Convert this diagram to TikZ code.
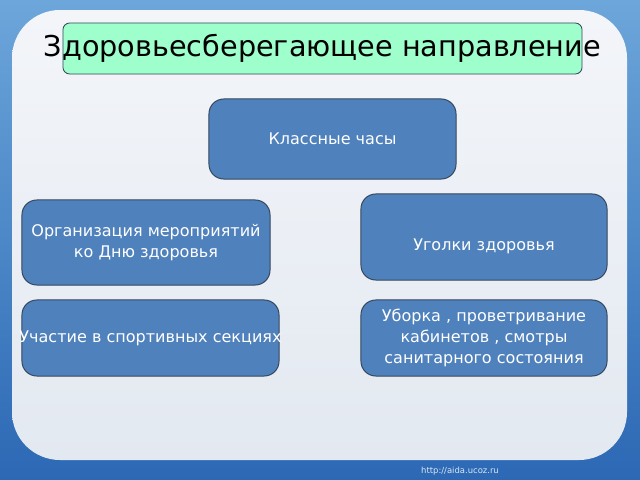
\documentclass[tikz,border=0pt]{standalone}
\usepackage{fontspec}
\setmainfont{DejaVu Sans}
\definecolor{boxblue}{HTML}{4F81BD}
\definecolor{boxline}{HTML}{34475C}
\definecolor{mint}{HTML}{9EFFCC}
\definecolor{skytop}{HTML}{6CA6DA}
\definecolor{seabot}{HTML}{2C68B4}
\definecolor{paneltop}{HTML}{F3F5F9}
\definecolor{panelbot}{HTML}{E3E9F1}
\begin{document}
\begin{tikzpicture}[x=0.025cm,y=-0.025cm,
     box/.style={draw=boxline,line width=0.7pt,fill=boxblue,rounded corners=0.37cm,
       text=white,align=center,inner sep=0pt,font=\fontsize{11.4}{14.8}\selectfont},
     titlebox/.style={draw=boxline,line width=0.6pt,fill=mint,rounded corners=0.17cm,
       inner sep=0pt,font=\fontsize{20.4}{24}\selectfont}
     ]
%Background and panel
\shade[top color=skytop,bottom color=seabot] (0,0) rectangle (640,480);
\shade[top color=paneltop,bottom color=panelbot,rounded corners=1.2cm] (12,10) rectangle (627,460);
\node[font=\fontsize{6}{7}\selectfont,text=white!75!skytop] (site) at (460,471) {http://aida.ucoz.ru};

%Title
\node[titlebox,minimum width=12.975cm,minimum height=1.275cm] (title) at (322.5,48.5)
   {\makebox[0pt][c]{Здоровьесберегающее направление}};

%Boxes
\node[box,minimum width=6.175cm,minimum height=2cm] (klass) at (332.5,139) {Классные часы};
\node[box,minimum width=6.15cm,minimum height=2.15cm,text height=2.1em] (ugolki) at (484,237) {Уголки здоровья};
\node[box,minimum width=6.2cm,minimum height=2.125cm] (org) at (146,242.5)
   {Организация мероприятий\\ко Дню здоровья};
\node[box,minimum width=6.425cm,minimum height=1.9cm] (sport) at (150.5,338)
   {\makebox[0pt][c]{Участие в спортивных секциях}};
\node[box,minimum width=6.15cm,minimum height=1.9cm] (uborka) at (484,338)
   {Уборка , проветривание\\кабинетов , смотры\\санитарного состояния};
\end{tikzpicture}
\end{document}
